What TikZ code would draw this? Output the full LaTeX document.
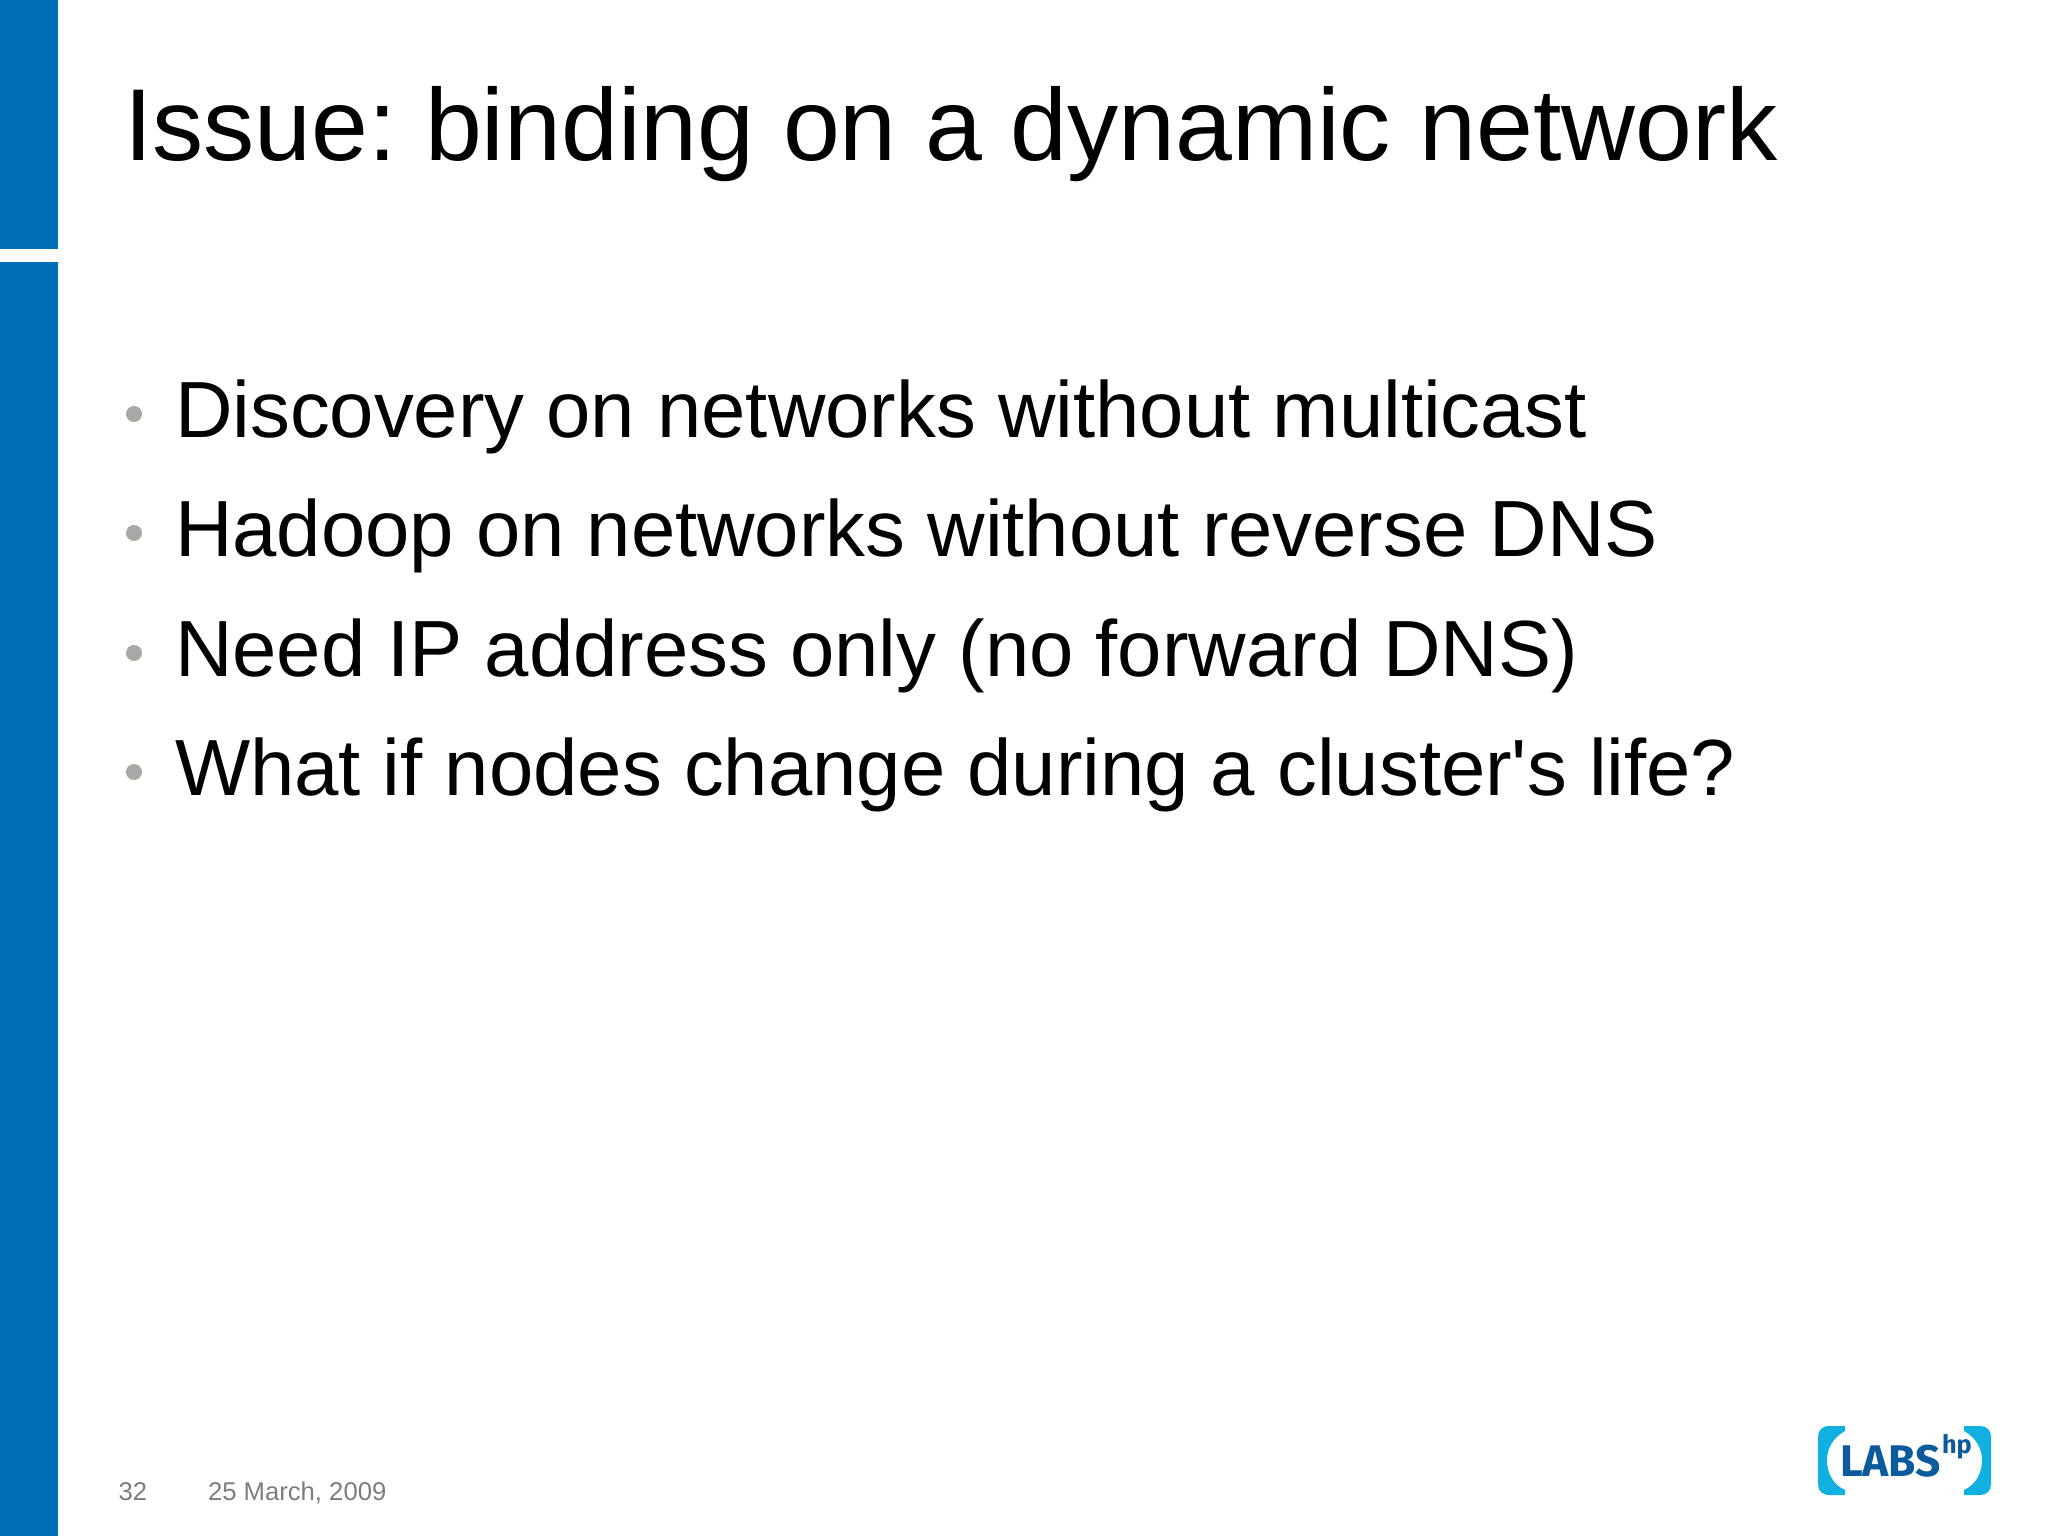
\documentclass[tikz,border=0pt]{standalone}
\usepackage{fontspec}
\setmainfont{Liberation Sans}
\newfontfamily\logofont{Fira Sans}
\usepackage{tikz}
\frenchspacing
\definecolor{hpblue}{HTML}{0070B6}
\definecolor{hpcyan}{HTML}{12B0E0}
\definecolor{hpnavy}{HTML}{0A5A9C}
\definecolor{dotgray}{HTML}{A8A8A4}
\definecolor{footgray}{HTML}{7D7D80}
\tikzset{
  txt/.style={anchor=base west,inner sep=0pt,outer sep=0pt},
  item/.style={txt,font=\fontsize{22.65pt}{27pt}\selectfont},
  dot/.style={circle,fill=dotgray,inner sep=0pt,minimum size=0.16cm},
  foot/.style={txt,text=footgray,font=\fontsize{7.3pt}{9pt}\selectfont}
}
\begin{document}
\begin{tikzpicture}[x=0.01cm,y=-0.01cm]
\useasboundingbox (0,0) rectangle (2048,1536);
% side bar
\fill[hpblue] (0,0) rectangle (58,249);
\fill[hpblue] (0,262) rectangle (58,1536);
% title
\node[txt,font=\fontsize{29.07pt}{34pt}\selectfont] (title) at (124,160.5) {Issue: binding on a dynamic network};
% bullets
\node[item] (one) at (175,437) {Discovery on networks without multicast};
\node[item] (two) at (175,556.5) {Hadoop on networks without reverse DNS};
\node[item] (three) at (175,676) {Need IP address only (no forward DNS)};
\node[item] (four) at (175,795.5) {What if nodes change during a cluster\textquotesingle s life?};
\node[dot] (dotone) at (134,414) {};
\node[dot] (dottwo) at (134,533) {};
\node[dot] (dotthree) at (134,653) {};
\node[dot] (dotfour) at (134,772) {};
% footer
\node[foot] (page) at (118.5,1500) {32};
\node[foot] (date) at (208,1500) {25 March, 2009};
% logo
\fill[hpcyan] (1830,1426) -- (1845,1426) -- (1845,1431)
   .. controls (1832,1438) and (1827,1450) .. (1827,1460)
   .. controls (1827,1472) and (1832,1484) .. (1845,1490)
   -- (1845,1495) -- (1830,1495)
   .. controls (1822,1495) and (1818,1491) .. (1818,1484)
   -- (1818,1437) .. controls (1818,1430) and (1822,1426) .. (1830,1426) -- cycle;
\fill[hpcyan] (1979,1426) -- (1964,1426) -- (1964,1431)
   .. controls (1977,1438) and (1982,1450) .. (1982,1460)
   .. controls (1982,1472) and (1977,1484) .. (1964,1490)
   -- (1964,1495) -- (1979,1495)
   .. controls (1987,1495) and (1991,1491) .. (1991,1484)
   -- (1991,1437) .. controls (1991,1430) and (1987,1426) .. (1979,1426) -- cycle;
\node[txt,text=hpnavy,font=\logofont\bfseries\fontsize{12.6pt}{14pt}\selectfont] (labs) at (1840,1476) {LABS};
\node[txt,text=hpnavy,font=\logofont\bfseries\fontsize{7.2pt}{8pt}\selectfont] (hp) at (1942,1453) {hp};
\end{tikzpicture}
\end{document}
